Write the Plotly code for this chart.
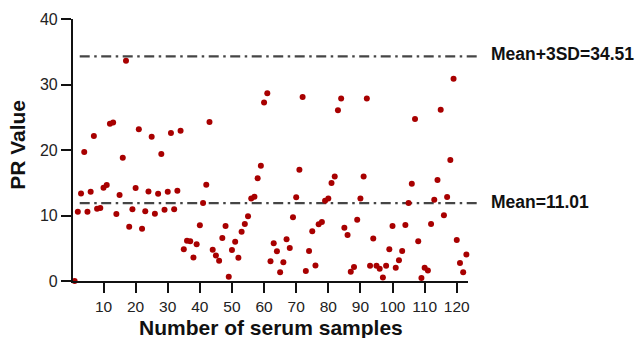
import plotly.graph_objects as go

# ---- data ----
pr_values = [
    0.0, 10.58, 13.37, 19.69, 10.58, 13.63, 22.13, 11.04, 11.14, 14.24,
    14.65, 24.0, 24.2, 10.22, 13.13, 18.82, 33.63, 8.29, 10.94, 14.2,
    23.15, 7.98, 10.63, 13.68, 22.03, 10.27, 13.33, 19.39, 10.89, 13.63,
    22.6, 10.94, 13.79, 22.95, 4.83, 6.15, 6.05, 3.6, 5.6, 8.5,
    11.9, 14.7, 24.27, 4.78, 3.91, 3.1, 6.56, 8.4, 0.66, 4.73,
    6.0, 3.56, 7.53, 8.7, 9.87, 12.61, 12.87, 15.67, 17.6, 27.27,
    28.65, 3.0, 5.75, 4.53, 1.32, 2.85, 6.36, 5.03, 9.72, 12.77,
    17.0, 28.08, 1.52, 4.58, 7.58, 2.38, 8.65, 9.0, 12.26, 12.61,
    14.96, 15.97, 26.05, 27.88, 8.14, 7.02, 1.42, 2.14, 9.36, 12.61,
    15.97, 27.88, 2.34, 6.5, 2.34, 1.88, 0.55, 2.34, 4.83, 8.4,
    2.03, 3.15, 4.58, 8.55, 11.9, 14.85, 24.73, 6.05, 0.46, 2.03,
    1.62, 8.7, 12.41, 15.42, 26.15, 10.02, 12.83, 18.47, 30.89, 6.26,
    2.75, 1.32, 4.06,
]
sample_numbers = list(range(1, len(pr_values) + 1))

x_tick_values = [10, 20, 30, 40, 50, 60, 70, 80, 90, 100, 110, 120]
y_tick_values = [0, 10, 20, 30, 40]

mean_line_y = 11.9
upper_line_y = 34.3
mean_label = "Mean=11.01"
upper_label = "Mean+3SD=34.51"

x_title = "Number of serum samples"
y_title = "PR Value"

FONT = "Arial, Liberation Sans, sans-serif"

fig = go.Figure()
fig.add_trace(go.Scatter(
    x=sample_numbers, y=pr_values, mode="markers",
    marker=dict(color="#A80000", size=6, line=dict(width=0)),
    cliponaxis=False, showlegend=False,
))

dash = "10px,4.5px,2.5px,4.5px"
for yv in (upper_line_y, mean_line_y):
    fig.add_shape(type="line", xref="paper", yref="y",
                  x0=0.017, x1=1.022, y0=yv, y1=yv,
                  line=dict(color="#454545", width=2.2, dash=dash), layer="below")

fig.add_annotation(x=1.052, y=upper_line_y, xref="paper", yref="y", text=upper_label,
                   showarrow=False, xanchor="left", yanchor="middle", yshift=2,
                   font=dict(family=FONT, size=17.5, color="#111111", weight="bold"))
fig.add_annotation(x=1.052, y=mean_line_y, xref="paper", yref="y", text=mean_label,
                   showarrow=False, xanchor="left", yanchor="middle", yshift=1,
                   font=dict(family=FONT, size=17.5, color="#111111", weight="bold"))

fig.add_annotation(x=0.5, y=-0.178, xref="paper", yref="paper", text=x_title,
                   showarrow=False, xanchor="center", yanchor="middle",
                   font=dict(family=FONT, size=21, color="#111111", weight="bold"))
fig.add_annotation(x=-0.139, y=0.52, xref="paper", yref="paper", text=y_title,
                   showarrow=False, xanchor="center", yanchor="middle", textangle=-90,
                   font=dict(family=FONT, size=21, color="#111111", weight="bold"))

axis_common = dict(
    showline=True, linecolor="#111111", linewidth=2.2,
    ticks="outside", ticklen=10, tickwidth=2.2, tickcolor="#111111",
    showgrid=False, zeroline=False,
)
fig.update_xaxes(range=[0.5, 123.5], tickvals=x_tick_values,
                 tickfont=dict(family=FONT, size=15.5, color="#222222"), **axis_common)
fig.update_yaxes(range=[0, 40], tickvals=y_tick_values,
                 tickfont=dict(family=FONT, size=16, color="#222222"), **axis_common)

fig.update_layout(
    width=636, height=338,
    margin=dict(l=73, r=168, t=19, b=57),
    paper_bgcolor="white", plot_bgcolor="white",
)

fig.write_html("out.html")
